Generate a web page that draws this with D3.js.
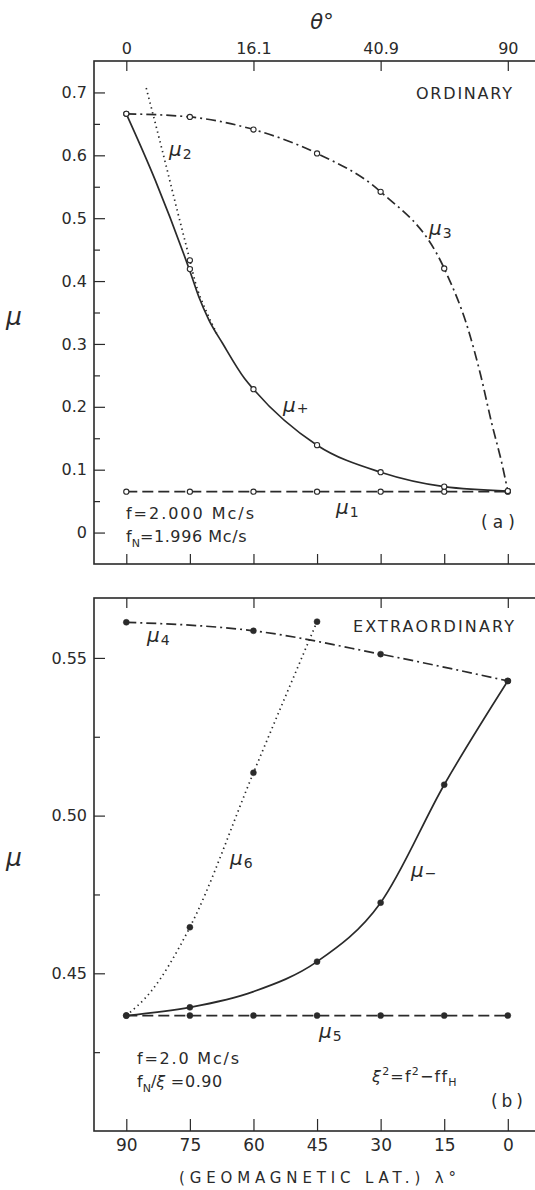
<!DOCTYPE html>
<html>
<head>
<meta charset="utf-8">
<script src="https://cdn.jsdelivr.net/npm/d3@7"></script>
<style>
  body { margin: 0; background: #fff; }
  svg { display: block; font-family: "DejaVu Sans", sans-serif; }
</style>
</head>
<body>
<div id="chart"></div>
<script>
// geomagnetic latitude of computed points, and the theta values shown on top
const lat = [90, 75, 60, 45, 30, 15, 0];
const latLabels = ["90", "75", "60", "45", "30", "15", "0"];
const thetaLat = [90, 60, 30, 0];
const thetaLabels = ["0", "16.1", "40.9", "90"];

// (a) ordinary, tick values
const topMajor = [0, 0.1, 0.2, 0.3, 0.4, 0.5, 0.6, 0.7];
const topMinor = [0.05, 0.15, 0.25, 0.35, 0.45, 0.55, 0.65];
const topLabels = ["0", "0.1", "0.2", "0.3", "0.4", "0.5", "0.6", "0.7"];

// (a) marked points (open circles)
const mu3Pts = [0.666, 0.661, 0.641, 0.603, 0.542, 0.420, 0.066];
const muPlusPts = [0.666, 0.419, 0.228, 0.139, 0.096, 0.073, 0.066];
const mu1Pts = [0.065, 0.065, 0.065, 0.065, 0.065, 0.065, 0.065];
const mu2Mark = [[75, 0.433]];

// (a) curves
const mu3Trace = [[90, 0.666], [75, 0.661], [60, 0.641], [45, 0.603], [30, 0.542],
  [15, 0.420], [9.3, 0.322], [6.5, 0.253], [3.8, 0.174], [1.4, 0.110], [0, 0.066]];
const muPlusTrace = [[90, 0.666], [83.2, 0.561], [74.8, 0.412], [72.9, 0.375], [70.5, 0.338],
  [67.3, 0.301], [62.1, 0.245], [60, 0.228], [45, 0.139], [30, 0.096], [15, 0.073], [0, 0.066]];
const mu2Trace = [[85.3, 0.707], [81.6, 0.610], [77.9, 0.510], [75, 0.433], [73.8, 0.400],
  [71.0, 0.350], [68.7, 0.317]];

// (b) extraordinary, tick values
const botMajor = [0.45, 0.50, 0.55];
const botMinor = [0.425, 0.475, 0.525];
const botLabels = ["0.45", "0.50", "0.55"];

// (b) marked points (filled dots)
const mu4Lat = [90, 60, 30, 0];
const mu4Pts = [0.5613, 0.5586, 0.5512, 0.5427];
const mu6Lat = [75, 60, 45];
const mu6Pts = [0.4646, 0.5136, 0.5615];
const muMinusLat = [90, 75, 45, 30, 15, 0];
const muMinusPts = [0.4366, 0.4392, 0.4537, 0.4724, 0.5098, 0.5427];
const mu5Pts = [0.4366, 0.4366, 0.4366, 0.4366, 0.4366, 0.4366, 0.4366];

// (b) curves
const mu6Trace = [[90, 0.4366], [84.2, 0.4442], [75, 0.4646], [60, 0.5136], [45, 0.5615]];
const muMinusTrace = [[90, 0.4366], [75, 0.4392], [60, 0.4442], [45, 0.4537], [30, 0.4724],
  [15, 0.5098], [0, 0.5427]];

const W = 535, H = 1190;
const ink = "#2a2a2a";
const X0 = 94, X1 = 537;

const svg = d3.select("#chart").append("svg")
  .attr("width", W).attr("height", H);

const x = d3.scaleLinear().domain([90, 0]).range([126.3, 507.8]);
const yTop = d3.scaleLinear().domain([-0.05, 0.75]).range([564, 61]);
const yBot = d3.scaleLinear().domain([0.40, 0.569]).range([1131, 598]);

function styleAxis(a, size) {
  a.select(".domain").remove();
  a.selectAll("line").attr("stroke", ink).attr("stroke-width", 1.2);
  a.selectAll("text").attr("fill", ink).attr("font-size", size)
    .attr("font-family", "DejaVu Sans, sans-serif");
}

function frame(y) {
  const [b, t] = y.range();
  svg.append("rect")
    .attr("x", X0).attr("y", t).attr("width", X1 - X0).attr("height", b - t)
    .attr("fill", "none").attr("stroke", ink).attr("stroke-width", 1.6);
}

function leftAxis(y, majors, minors, labels) {
  svg.append("g").attr("transform", `translate(${X0},0)`)
    .call(d3.axisLeft(y).tickValues(majors).tickSize(-11).tickPadding(7)
      .tickFormat((d, i) => labels[i]))
    .call(a => styleAxis(a, 16));
  svg.append("g").attr("transform", `translate(${X0},0)`)
    .call(d3.axisLeft(y).tickValues(minors).tickSize(-6).tickFormat(""))
    .call(a => styleAxis(a, 16));
}

function drawLine(y, pts, dash, width) {
  svg.append("path")
    .datum(pts)
    .attr("fill", "none")
    .attr("stroke", ink)
    .attr("stroke-width", width)
    .attr("stroke-dasharray", dash)
    .attr("d", d3.line().x(d => x(d[0])).y(d => y(d[1])).curve(d3.curveMonotoneX));
}

function drawMarks(y, lats, vals, open) {
  svg.append("g").selectAll("circle")
    .data(lats.map((l, i) => [l, vals[i]]))
    .join("circle")
    .attr("cx", d => x(d[0]))
    .attr("cy", d => y(d[1]))
    .attr("r", open ? 2.6 : 3)
    .attr("fill", open ? "#fff" : ink)
    .attr("stroke", ink)
    .attr("stroke-width", open ? 1.1 : 0.5);
}

function muLabel(px, py, sub, size, subDy) {
  const t = svg.append("text").attr("x", px).attr("y", py)
    .attr("font-size", size).attr("fill", ink);
  t.append("tspan").attr("font-style", "italic").text("μ");
  if (sub) t.append("tspan").attr("font-size", size * 0.7).attr("dx", 1).attr("dy", subDy).text(sub);
}

function plain(px, py, str, size, opts = {}) {
  const t = svg.append("text").attr("x", px).attr("y", py)
    .attr("font-size", size).attr("fill", ink).text(str);
  if (opts.len) t.attr("textLength", opts.len).attr("lengthAdjust", "spacing");
  if (opts.anchor) t.attr("text-anchor", opts.anchor);
  return t;
}

// ---------------- panel (a) ----------------
frame(yTop);
leftAxis(yTop, topMajor, topMinor, topLabels);

svg.append("g").attr("transform", `translate(0,${yTop.range()[1]})`)
  .call(d3.axisTop(x).tickValues(thetaLat).tickSize(-10).tickPadding(7)
    .tickFormat((d, i) => thetaLabels[i]))
  .call(a => styleAxis(a, 16));

svg.append("g").attr("transform", `translate(0,${yTop.range()[0]})`)
  .call(d3.axisBottom(x).tickValues(lat).tickSize(-10).tickFormat(""))
  .call(a => styleAxis(a, 16));

drawLine(yTop, lat.map((l, i) => [l, mu1Pts[i]]), "11,5", 1.7);
drawLine(yTop, mu3Trace, "10,4,2,4", 1.7);
drawLine(yTop, mu2Trace, "1.4,3.6", 1.7);
drawLine(yTop, muPlusTrace, null, 1.7);

drawMarks(yTop, lat, mu1Pts, true);
drawMarks(yTop, lat, mu3Pts, true);
drawMarks(yTop, lat, muPlusPts, true);
drawMarks(yTop, mu2Mark.map(d => d[0]), mu2Mark.map(d => d[1]), true);

// theta title
svg.append("text").attr("x", 322).attr("y", 29).attr("text-anchor", "middle")
  .attr("font-size", 21).attr("fill", ink).attr("font-style", "italic").text("θ°");

muLabel(6, 325, null, 25, 0);
plain(416, 99, "ORDINARY", 16, { len: 96 });
muLabel(169, 156, "2", 20, 3);
muLabel(429, 235, "3", 20, 3);
muLabel(283, 412, "+", 20, 1);
muLabel(336, 514, "1", 20, 3);
plain(126, 519, "f=2.000 Mc/s", 16, { len: 128 });
{
  const t = svg.append("text").attr("x", 126).attr("y", 542)
    .attr("font-size", 16).attr("fill", ink);
  t.append("tspan").text("f");
  t.append("tspan").attr("font-size", 11).attr("dy", 5).text("N");
  t.append("tspan").attr("dy", -5).attr("letter-spacing", 0.6).text("=1.996 Mc/s");
}
plain(481, 528, "(a)", 17, { len: 34 });

// ---------------- panel (b) ----------------
frame(yBot);
leftAxis(yBot, botMajor, botMinor, botLabels);

svg.append("g").attr("transform", `translate(0,${yBot.range()[1]})`)
  .call(d3.axisTop(x).tickValues(thetaLat).tickSize(-10).tickFormat(""))
  .call(a => styleAxis(a, 16));

svg.append("g").attr("transform", `translate(0,${yBot.range()[0]})`)
  .call(d3.axisBottom(x).tickValues(lat).tickSize(-12).tickPadding(8)
    .tickFormat((d, i) => latLabels[i]))
  .call(a => styleAxis(a, 17));

drawLine(yBot, lat.map((l, i) => [l, mu5Pts[i]]), "11,5", 1.7);
drawLine(yBot, mu4Lat.map((l, i) => [l, mu4Pts[i]]), "10,4,2,4", 1.7);
drawLine(yBot, mu6Trace, "1.4,3.6", 1.7);
drawLine(yBot, muMinusTrace, null, 1.7);

drawMarks(yBot, lat, mu5Pts, false);
drawMarks(yBot, mu4Lat, mu4Pts, false);
drawMarks(yBot, mu6Lat, mu6Pts, false);
drawMarks(yBot, muMinusLat, muMinusPts, false);

muLabel(6, 866, null, 25, 0);
plain(353, 632, "EXTRAORDINARY", 16, { len: 161 });
muLabel(147, 642, "4", 20, 3);
muLabel(230, 865, "6", 20, 3);
muLabel(411, 877, "−", 20, 1);
muLabel(319, 1038, "5", 20, 3);
plain(137, 1064, "f=2.0 Mc/s", 16, { len: 102 });
{
  const t = svg.append("text").attr("x", 137).attr("y", 1087)
    .attr("font-size", 16).attr("fill", ink);
  t.append("tspan").text("f");
  t.append("tspan").attr("font-size", 11).attr("dy", 5).text("N");
  t.append("tspan").attr("dy", -5).text("/");
  t.append("tspan").attr("font-style", "italic").text("ξ");
  t.append("tspan").attr("letter-spacing", 0.6).text(" =0.90");
}
{
  const t = svg.append("text").attr("x", 372).attr("y", 1082)
    .attr("font-size", 16).attr("fill", ink).attr("letter-spacing", 1.2);
  t.append("tspan").attr("font-style", "italic").text("ξ");
  t.append("tspan").attr("font-size", 11).attr("dy", -7).text("2");
  t.append("tspan").attr("dy", 7).text("=f");
  t.append("tspan").attr("font-size", 11).attr("dy", -7).text("2");
  t.append("tspan").attr("dy", 7).text("−ff");
  t.append("tspan").attr("font-size", 11).attr("dy", 4).text("H");
}
plain(491, 1107, "(b)", 17, { len: 32 });

plain(179, 1183, "(GEOMAGNETIC LAT.) λ°", 15, { len: 277 });
</script>
</body>
</html>
